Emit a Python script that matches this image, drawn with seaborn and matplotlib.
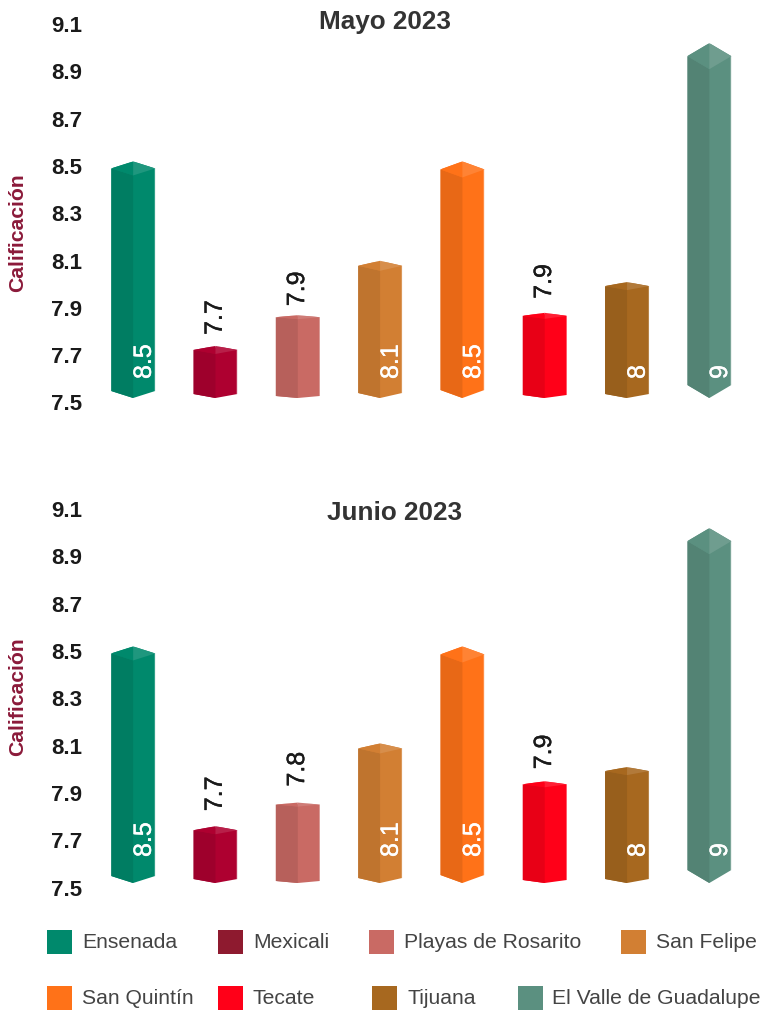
# Calificacion por municipio, mayo y junio 2023
import matplotlib
matplotlib.use("Agg")
import matplotlib.pyplot as plt
import matplotlib.patheffects as pe
import seaborn as sns
import pandas as pd
from matplotlib.patches import Polygon, Rectangle
from matplotlib.transforms import ScaledTranslation

# Data
municipios = ["Ensenada", "Mexicali", "Playas de Rosarito", "San Felipe",
              "San Quintín", "Tecate", "Tijuana", "El Valle de Guadalupe"]
mayo = [8.5, 7.72, 7.85, 8.08, 8.5, 7.86, 7.99, 9.0]
junio = [8.5, 7.74, 7.84, 8.09, 8.5, 7.93, 7.99, 9.0]
mayo_labels = ["8.5", "7.7", "7.9", "8.1", "8.5", "7.9", "8", "9"]
junio_labels = ["8.5", "7.7", "7.8", "8.1", "8.5", "7.9", "8", "9"]
y_ticks = [7.5, 7.7, 7.9, 8.1, 8.3, 8.5, 8.7, 8.9, 9.1]

# Colours
bar_colors = ["#00896C", "#AE0030", "#C96A64", "#D27F33",
              "#FF7218", "#FF0018", "#A7681F", "#5B9080"]
legend_colors = ["#00896C", "#8E1A2F", "#C96A64", "#D27F33",
                 "#FF7218", "#FF0018", "#A7681F", "#5B9080"]
side_shade = 0.91
cap_tint = 0.12

# cap depth of each prism in pixels (a bit different per bar in the original)
cap_drop = [7, 4, 2, 5, 8, 3, 4, 13]

W, H = 761, 1011
sns.set_style("white")
plt.rcParams["font.family"] = ["Liberation Sans", "DejaVu Sans"]

fig = plt.figure(figsize=(W / 100, H / 100), dpi=100)


def shade(color, k):
    r, g, b = matplotlib.colors.to_rgb(color)
    return (r * k, g * k, b * k)


def tint(color, k):
    r, g, b = matplotlib.colors.to_rgb(color)
    return (r + (1 - r) * k, g + (1 - g) * k, b + (1 - b) * k)


def draw_panel(values, labels, title, px_base, px_top, title_x, title_y, label_y, inner_gap, outer_gap):
    # px_base is the pixel row of 7.5, px_top the pixel row of 9.1
    ax = fig.add_axes([92 / W, 1 - px_base / H, 658.5 / W, (px_base - px_top) / H])
    df = pd.DataFrame({"municipio": municipios, "valor": values})
    sns.barplot(data=df, x="municipio", y="valor", hue="municipio", palette=bar_colors,
                width=0.535, saturation=1, legend=False, ax=ax)
    ax.set_ylim(7.5, 9.1)
    ax.set_xlim(-0.5, 7.5)
    ax.set_xticks([])
    ax.set_xlabel("")
    ax.set_ylabel("")
    ax.set_yticks(y_ticks)
    ax.set_yticklabels([f"{t:.1f}" for t in y_ticks], fontsize=16, fontweight="bold", color="#1a1a1a")
    ax.tick_params(axis="y", length=0, pad=7)
    shift = ScaledTranslation(0, -4.5 / 100, fig.dpi_scale_trans)
    for lab in ax.get_yticklabels():
        lab.set_transform(lab.get_transform() + shift)
    sns.despine(ax=ax, left=True, bottom=True)
    ax.patch.set_alpha(0)

    per_px = 1.6 / (px_base - px_top)
    for i, bar in enumerate(ax.patches):
        x0 = bar.get_x()
        w = bar.get_width()
        mid = x0 + w / 2
        x1 = x0 + w
        top = values[i]
        d = cap_drop[i] * per_px
        low = 7.5
        col = bar_colors[i]
        outline = [(mid, top), (x1, top - d), (x1, low + d), (mid, low), (x0, low + d), (x0, top - d)]
        clip = Polygon(outline, closed=True, transform=ax.transData)
        bar.set_clip_path(clip)
        ax.add_patch(Polygon([(x0, top - d), (mid, top - 2 * d), (mid, low), (x0, low + d)],
                             closed=True, fc=shade(col, side_shade), ec="none", clip_on=False, zorder=3))
        ax.add_patch(Polygon([(x0, top - d), (mid, top), (mid, top - 2 * d)],
                             closed=True, fc=col, ec="none", clip_on=False, zorder=3))
        ax.add_patch(Polygon([(mid, top), (x1, top - d), (mid, top - 2 * d)],
                             closed=True, fc=tint(col, cap_tint), ec="none", clip_on=False, zorder=3))

        # value labels, white inside the tall bars, dark above the short ones
        if top >= 7.95:
            color = "white"
            t = ax.annotate(labels[i], (mid, low), xytext=(7.7, inner_gap * 0.72), textcoords="offset points",
                            rotation=90, ha="center", va="bottom", fontsize=18, color=color, zorder=5)
        else:
            color = "#1a1a1a"
            t = ax.annotate(labels[i], (mid, top), xytext=(-0.5, outer_gap[i] * 0.72), textcoords="offset points",
                            rotation=90, ha="center", va="bottom", fontsize=18, color=color, zorder=5)
        t.set_path_effects([pe.withStroke(linewidth=0.3, foreground=color)])

    fig.text(title_x / W, 1 - title_y / H, title, ha="center", va="center",
             fontsize=18.8, fontweight="bold", color="#333333")
    fig.text(17.5 / W, 1 - label_y / H, "Calificación", rotation=90, ha="center", va="center",
             fontsize=15.2, fontweight="bold", color="#8B1A3A")
    return ax


draw_panel(mayo, mayo_labels, "Mayo 2023", 398, 19.5, 385, 21.5, 232.5, 19,
           {1: 11, 2: 9, 5: 14})
draw_panel(junio, junio_labels, "Junio 2023", 883, 504.5, 395, 512.5, 697, 26,
           {1: 15, 2: 16, 5: 12})

# Legend, two rows with uneven columns like the original
swatch_x = [47, 218, 369, 621, 47, 218, 372, 518]
text_x = [82, 253, 404, 656, 82, 253, 407, 552]
row_y = [942, 942, 942, 942, 998, 998, 998, 998]
for name, color, sx, tx, ry in zip(municipios, legend_colors, swatch_x, text_x, row_y):
    fig.add_artist(Rectangle((sx / W, 1 - (ry + 12) / H), 25 / W, 24 / H, transform=fig.transFigure,
                             fc=color, ec="none"))
    fig.text(tx / W, 1 - ry / H, name, ha="left", va="center", fontsize=15.2, color="#444444")

fig.savefig("out.png", dpi=100)
